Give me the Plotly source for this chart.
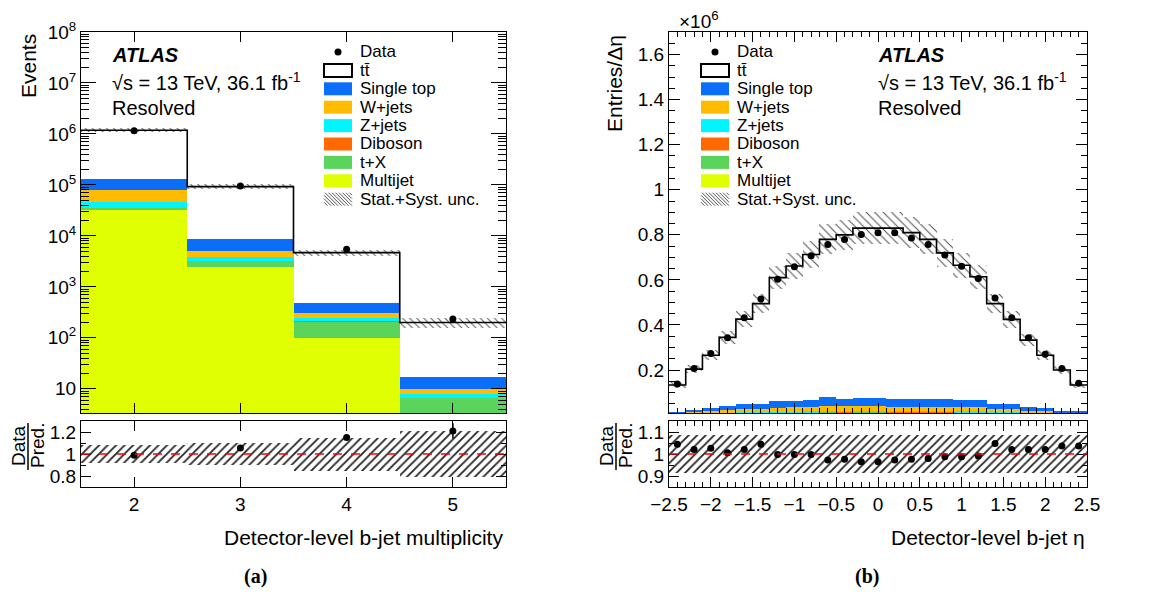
import numpy as np
import plotly.graph_objects as go

# ---------------- data ----------------
nb_centers = [2, 3, 4, 5]
nb_total = [1.18e6, 9.27e4, 4.7e3, 200]
nb_singletop = [5.0e4, 3.5e3, 176, 7.3]
nb_wjets = [3.4e4, 1.3e3, 67, 2.3]
nb_zjets = [1.1e4, 600, 33, 1.2]
nb_diboson = [400, 60, 5, 0.1]
nb_tx = [3.5e3, 700, 105, 5.5]
nb_multijet = [3.2e4, 2.45e3, 100, 1.0]
nb_data = [1.15e6, 9.5e4, 5.45e3, 233]
nb_ratio = [0.988, 1.055, 1.15, 1.21]
nb_ratio_err = [0.004, 0.008, 0.02, 0.07]
nb_unc = [0.085, 0.10, 0.15, 0.21]

eta_centers = [-2.4, -2.2, -2.0, -1.8, -1.6, -1.4, -1.2, -1.0, -0.8, -0.6, -0.4, -0.2, 0.0,
               0.2, 0.4, 0.6, 0.8, 1.0, 1.2, 1.4, 1.6, 1.8, 2.0, 2.2, 2.4]
eta_total = [0.134, 0.204, 0.266, 0.345, 0.426, 0.495, 0.610, 0.662, 0.713, 0.780, 0.800, 0.830, 0.830,
             0.830, 0.810, 0.780, 0.720, 0.665, 0.614, 0.495, 0.425, 0.333, 0.266, 0.200, 0.134]
eta_singletop = [0.007, 0.0105, 0.0147, 0.0193, 0.0228, 0.0235, 0.028, 0.0294, 0.0308, 0.0364, 0.034, 0.035, 0.035,
                 0.0326, 0.0322, 0.0326, 0.0322, 0.0312, 0.0312, 0.0224, 0.0224, 0.0161, 0.0151, 0.0091, 0.0077]
eta_wjets = [0.004, 0.0066, 0.0092, 0.012, 0.0143, 0.0147, 0.0176, 0.0185, 0.0194, 0.0229, 0.0213, 0.022, 0.022,
             0.0205, 0.0202, 0.0205, 0.0202, 0.0196, 0.0196, 0.0141, 0.0141, 0.0101, 0.0095, 0.0057, 0.0048]
eta_zjets = [0.0012, 0.0018, 0.0025, 0.0033, 0.0039, 0.004, 0.0048, 0.005, 0.0053, 0.0062, 0.0058, 0.006, 0.006,
             0.0056, 0.0055, 0.0056, 0.0055, 0.0053, 0.0053, 0.0038, 0.0038, 0.0028, 0.0026, 0.0016, 0.0013]
eta_diboson = [0.0002, 0.0003, 0.0004, 0.0006, 0.0007, 0.0007, 0.0008, 0.0008, 0.0009, 0.001, 0.001, 0.001, 0.001,
               0.0009, 0.0009, 0.0009, 0.0009, 0.0009, 0.0009, 0.0006, 0.0006, 0.0005, 0.0004, 0.0003, 0.0002]
eta_tx = [0.0008, 0.0012, 0.0017, 0.0022, 0.0026, 0.0027, 0.0032, 0.0034, 0.0035, 0.0042, 0.0039, 0.004, 0.004,
          0.0037, 0.0037, 0.0037, 0.0037, 0.0036, 0.0036, 0.0026, 0.0026, 0.0018, 0.0017, 0.001, 0.0009]
eta_multijet = [0.0016, 0.0024, 0.0034, 0.0044, 0.0052, 0.0054, 0.0064, 0.0067, 0.007, 0.0083, 0.0078, 0.008, 0.008,
                0.0074, 0.0074, 0.0074, 0.0074, 0.0071, 0.0071, 0.0051, 0.0051, 0.0037, 0.0034, 0.0021, 0.0018]
eta_data = [0.138, 0.207, 0.274, 0.343, 0.432, 0.515, 0.603, 0.658, 0.707, 0.757, 0.779, 0.801, 0.809,
            0.809, 0.786, 0.757, 0.710, 0.661, 0.606, 0.520, 0.432, 0.343, 0.270, 0.207, 0.141]
eta_ratio = [1.044, 1.021, 1.026, 1.006, 1.021, 1.044, 0.998, 0.998, 0.998, 0.973, 0.976, 0.965, 0.965,
             0.973, 0.976, 0.980, 0.988, 0.988, 0.991, 1.048, 1.021, 1.021, 1.021, 1.036, 1.036]
eta_unc = [0.087, 0.086, 0.086, 0.085, 0.085, 0.085, 0.085, 0.085, 0.085, 0.085, 0.085, 0.085, 0.085,
           0.085, 0.085, 0.085, 0.085, 0.085, 0.085, 0.085, 0.085, 0.085, 0.086, 0.086, 0.087]

labels = ["Data", "t\u0074\u0304", "Single top", "W+jets", "Z+jets", "Diboson", "t+X", "Multijet", "Stat.+Syst. unc."]
colors = {"Single top": "#0a6ef8", "W+jets": "#ffbb00", "Z+jets": "#00f5ff",
          "Diboson": "#ff6a00", "t+X": "#5ad45a", "Multijet": "#e0ff00"}

# ---------------- geometry helpers ----------------
W, H = 1149, 592
FONT = "Liberation Sans, Arial, sans-serif"


def px(x):
    return x / W


def py(y):
    return 1 - y / H


fig = go.Figure()


def add_stack(centers, width, comps, total, xa, ya):
    base = np.zeros(len(centers))
    for name, vals in comps:
        vals = np.array(vals, dtype=float)
        fig.add_trace(go.Bar(x=centers, y=vals, base=base.copy(), width=width,
                             marker=dict(color=colors[name], line=dict(width=0)),
                             xaxis=xa, yaxis=ya, showlegend=False, hoverinfo="skip"))
        base = base + vals
    tt = np.array(total, dtype=float) - base
    fig.add_trace(go.Bar(x=centers, y=tt, base=base.copy(), width=width,
                         marker=dict(color="white", line=dict(width=0)),
                         xaxis=xa, yaxis=ya, showlegend=False, hoverinfo="skip"))


def add_band(centers, width, center_vals, rel, xa, ya, shape, size, solidity, col):
    c = np.array(center_vals, dtype=float)
    r = np.array(rel, dtype=float)
    fig.add_trace(go.Bar(x=centers, y=2 * c * r, base=c * (1 - r), width=width,
                         marker=dict(color=col, line=dict(width=0),
                                     pattern=dict(shape=shape, fgcolor=col, size=size,
                                                  solidity=solidity, fillmode="replace")),
                         xaxis=xa, yaxis=ya, showlegend=False, hoverinfo="skip"))


def add_step(centers, width, total, xa, ya):
    edges = [c - width / 2 for c in centers] + [centers[-1] + width / 2]
    fig.add_trace(go.Scatter(x=edges, y=list(total) + [total[-1]], mode="lines",
                             line=dict(color="black", width=1.6, shape="hv"),
                             xaxis=xa, yaxis=ya, showlegend=False, hoverinfo="skip"))


order = ["Multijet", "t+X", "Diboson", "Z+jets", "W+jets", "Single top"]

# ---------------- left panel ----------------
nb_comps = list(zip(order, [nb_multijet, nb_tx, nb_diboson, nb_zjets, nb_wjets, nb_singletop]))
add_stack(nb_centers, 1.0, nb_comps, nb_total, "x", "y")
add_band(nb_centers, 1.0, nb_total, nb_unc, "x", "y", "\\", 5, 0.2, "#555555")
add_step(nb_centers, 1.0, nb_total, "x", "y")
fig.add_trace(go.Scatter(x=nb_centers, y=nb_data, mode="markers",
                         marker=dict(color="black", size=7), xaxis="x", yaxis="y",
                         showlegend=False))
add_band(nb_centers, 1.0, [1] * len(nb_centers), nb_unc, "x2", "y2", "/", 6, 0.3, "#222222")
fig.add_trace(go.Scatter(x=nb_centers, y=nb_ratio, mode="markers",
                         marker=dict(color="black", size=7),
                         error_y=dict(type="data", array=nb_ratio_err, color="black", thickness=1.5, width=0),
                         xaxis="x2", yaxis="y2", showlegend=False))

# ---------------- right panel ----------------
eta_comps = list(zip(order, [eta_multijet, eta_tx, eta_diboson, eta_zjets, eta_wjets, eta_singletop]))
add_stack(eta_centers, 0.2, eta_comps, eta_total, "x3", "y3")
add_band(eta_centers, 0.2, eta_total, eta_unc, "x3", "y3", "\\", 6, 0.18, "#555555")
add_step(eta_centers, 0.2, eta_total, "x3", "y3")
fig.add_trace(go.Scatter(x=eta_centers, y=eta_data, mode="markers",
                         marker=dict(color="black", size=7), xaxis="x3", yaxis="y3",
                         showlegend=False))
add_band(eta_centers, 0.2, [1] * len(eta_centers), eta_unc, "x4", "y4", "/", 6, 0.3, "#222222")
fig.add_trace(go.Scatter(x=eta_centers, y=eta_ratio, mode="markers",
                         marker=dict(color="black", size=7),
                         xaxis="x4", yaxis="y4", showlegend=False))

# ---------------- axes ----------------
def axis(**kw):
    d = dict(showline=True, linecolor="black", linewidth=1, mirror="ticks", ticks="inside",
             tickcolor="black", tickwidth=1, showgrid=False, zeroline=False, automargin=False,
             tickfont=dict(size=19, color="black", family=FONT))
    d.update(kw)
    return d


def minor(vals, ln):
    return dict(tickmode="array", tickvals=vals, ticks="inside", ticklen=ln,
                tickcolor="black", tickwidth=1, showgrid=False)


LX = [px(81), px(506)]
RX = [px(669), px(1087)]
MAINY = [py(413), py(32)]
RATY = [py(487), py(421)]

log_major = [10 ** k for k in range(1, 9)]
log_text = ["10"] + ["10<sup>%d</sup>" % k for k in range(2, 9)]
log_minor = [m * 10 ** k for k in range(0, 8) for m in range(2, 10)]

eta_major = [-2.5, -2, -1.5, -1, -0.5, 0, 0.5, 1, 1.5, 2, 2.5]
eta_text = ["\u22122.5", "\u22122", "\u22121.5", "\u22121", "\u22120.5", "0", "0.5", "1", "1.5", "2", "2.5"]
eta_minor = [round(-2.5 + 0.1 * i, 2) for i in range(51)]

fig.update_layout(
    xaxis=axis(domain=LX, anchor="y", range=[1.5, 5.5], tickmode="array", tickvals=nb_centers,
               showticklabels=False, ticklen=10),
    yaxis=axis(domain=MAINY, anchor="x", type="log", range=[np.log10(3.35), 8], tickmode="array",
               tickvals=log_major, ticktext=log_text, ticklen=15, minor=minor(log_minor, 8)),
    xaxis2=axis(domain=LX, anchor="y2", range=[1.5, 5.5], tickmode="array", tickvals=nb_centers,
                ticktext=[str(c) for c in nb_centers], ticklen=10),
    yaxis2=axis(domain=RATY, anchor="x2", range=[0.7, 1.3], tickmode="array", tickvals=[0.8, 1, 1.2],
                ticktext=["0.8", "1", "1.2"], ticklen=10, minor=minor([0.7, 0.9, 1.1, 1.3], 5)),
    xaxis3=axis(domain=RX, anchor="y3", range=[-2.5, 2.5], tickmode="array", tickvals=eta_major,
                showticklabels=False, ticklen=10, minor=minor(eta_minor, 5)),
    yaxis3=axis(domain=MAINY, anchor="x3", range=[0.0095, 1.7], tickmode="array",
                tickvals=[0.2, 0.4, 0.6, 0.8, 1.0, 1.2, 1.4, 1.6],
                ticktext=["0.2", "0.4", "0.6", "0.8", "1", "1.2", "1.4", "1.6"], ticklen=11,
                minor=minor([round(0.05 * i, 2) for i in range(1, 35)], 6)),
    xaxis4=axis(domain=RX, anchor="y4", range=[-2.5, 2.5], tickmode="array", tickvals=eta_major,
                ticktext=eta_text, ticklen=10, minor=minor(eta_minor, 5)),
    yaxis4=axis(domain=RATY, anchor="x4", range=[0.85, 1.15], tickmode="array", tickvals=[0.9, 1, 1.1],
                ticktext=["0.9", "1", "1.1"], ticklen=10, minor=minor([0.85, 0.95, 1.05, 1.15], 5)),
    barmode="overlay", bargap=0,
    width=W, height=H, margin=dict(l=0, r=0, t=0, b=0, autoexpand=False),
    paper_bgcolor="white", plot_bgcolor="white",
    font=dict(family=FONT, color="black"),
    showlegend=False,
)

shapes = []
ann = []

# red dashed line at 1 in ratio panels
for xa, ya in [("x2", "y2"), ("x4", "y4")]:
    shapes.append(dict(type="line", xref=xa + " domain", yref=ya, x0=0, x1=1, y0=1, y1=1,
                       line=dict(color="red", width=1.5, dash="dash"), layer="above"))


def text(x, y, s, size, xanchor="left", yanchor="middle", angle=0, fam=FONT):
    ann.append(dict(x=px(x), y=py(y), xref="paper", yref="paper", text=s, showarrow=False,
                    xanchor=xanchor, yanchor=yanchor, textangle=angle,
                    font=dict(size=size, family=fam, color="black")))


# ATLAS labels
for x0 in [110, 876]:
    text(x0, 55, "<b><i>ATLAS</i></b>", 20)
    text(x0, 81, "\u221as = 13 TeV, 36.1 fb<sup>-1</sup>", 20)
    text(x0, 108, "Resolved", 20)

# legends
row_y = [52, 70.4, 88.8, 107.2, 125.6, 144, 162.4, 180.8, 199.2]
for bx in [324, 701]:
    bw, bh = 28, 13
    for i, lab in enumerate(labels):
        yc = row_y[i]
        text(bx + bw + 6, yc, lab, 17)
        if lab == "Data":
            shapes.append(dict(type="circle", xref="paper", yref="paper",
                               x0=px(bx + bw / 2 - 3.5), x1=px(bx + bw / 2 + 3.5),
                               y0=py(yc + 3.5), y1=py(yc - 3.5),
                               fillcolor="black", line=dict(width=0)))
        elif lab.startswith("Stat"):
            yt, yb = yc - bh / 2, yc + bh / 2
            xl, xr = bx, bx + bw
            c = xl - bh
            while c < xr:
                xa_, xb_ = max(c, xl), min(c + bh, xr)
                if xa_ < xb_:
                    shapes.append(dict(type="line", xref="paper", yref="paper",
                                       x0=px(xa_), y0=py(yt + (xa_ - c)), x1=px(xb_), y1=py(yt + (xb_ - c)),
                                       line=dict(color="#555555", width=1)))
                c += 3.5
        else:
            fill = "white" if i == 1 else colors[lab]
            lw = 2 if i == 1 else 0
            shapes.append(dict(type="rect", xref="paper", yref="paper",
                               x0=px(bx), x1=px(bx + bw), y0=py(yc + bh / 2), y1=py(yc - bh / 2),
                               fillcolor=fill, line=dict(color="black", width=lw)))

# axis titles
text(28, 66, "Events", 21, xanchor="center", yanchor="middle", angle=-90)
text(614, 84, "Entries/\u0394\u03b7", 21, xanchor="center", yanchor="middle", angle=-90)
text(505, 537, "Detector-level b-jet multiplicity", 21, xanchor="right")
text(1087, 537, "Detector-level b-jet \u03b7", 21, xanchor="right")
text(677, 20, "\u00d710<sup>6</sup>", 19)

# Data / Pred. fraction labels
for (xd, xb, xp) in [(18, 28, 37), (606, 616, 625)]:
    text(xd, 446, "Data", 19, xanchor="center", angle=-90)
    text(xp, 446, "Pred.", 19, xanchor="center", angle=-90)
    shapes.append(dict(type="line", xref="paper", yref="paper", x0=px(xb), x1=px(xb),
                       y0=py(423), y1=py(470), line=dict(color="black", width=1.5)))

# sub-figure captions
text(255, 576, "<b>(a)</b>", 20, xanchor="center", fam="Liberation Serif, Times New Roman, serif")
text(867, 576, "<b>(b)</b>", 20, xanchor="center", fam="Liberation Serif, Times New Roman, serif")

fig.update_layout(shapes=shapes, annotations=ann)
fig.write_html("out.html", config={"displayModeBar": False, "staticPlot": True},
               post_script="document.body.style.margin='0px';document.body.style.overflow='hidden';")
